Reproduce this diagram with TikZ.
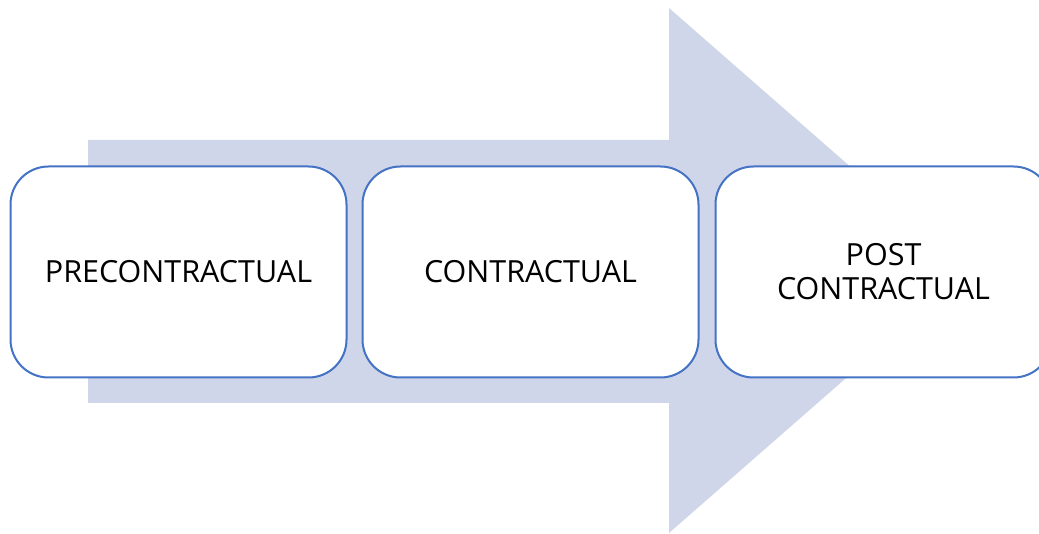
\documentclass[tikz,border=0pt]{standalone}
\usepackage{fontspec}
\setmainfont{Open Sans}
\usetikzlibrary{positioning}
\definecolor{arrowfill}{RGB}{207,214,234}
\definecolor{boxline}{RGB}{68,114,196}

\begin{document}
\begin{tikzpicture}[x=1pt, y=-1pt]
    \tikzstyle{stage}=[draw=boxline, line width=2pt, fill=white,
                       rounded corners=38pt, minimum width=336pt,
                       minimum height=211pt, align=center,
                       font=\fontsize{30.5}{34}\selectfont]
    \clip (0, 0) rectangle (1039, 534);
    \fill[arrowfill] (88, 140) -- (669, 140) -- (669, 8) -- (969, 270.5)
                     -- (669, 533) -- (669, 403) -- (88, 403) -- cycle;
    \node[stage] (pre)  at (178.5, 272) {PRECONTRACTUAL};
    \node[stage] (con)  at (530.5, 272) {CONTRACTUAL};
    \node[stage] (post) at (883.5, 272) {POST\\CONTRACTUAL};
\end{tikzpicture}
\end{document}
